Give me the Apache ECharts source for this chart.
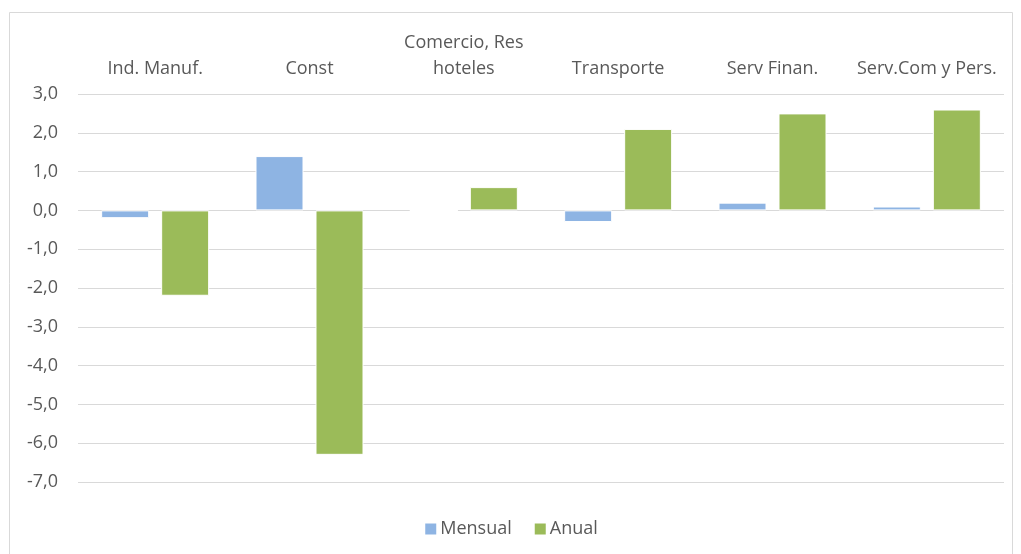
<!DOCTYPE html>
<html>
<head>
<meta charset="utf-8">
<script src="https://cdn.jsdelivr.net/npm/echarts@6/dist/echarts.min.js"></script>
<style>
html,body{margin:0;padding:0;background:#fff;}
#chart{width:1021px;height:554px;}
</style>
</head>
<body>
<div id="chart"></div>
<script>
const categories = ['Ind. Manuf.', 'Const', 'Comercio, Res\nhoteles', 'Transporte', 'Serv Finan.', 'Serv.Com y Pers.'];
const mensual = [-0.2, 1.4, 0.0, -0.3, 0.2, 0.1];
const anual = [-2.2, -6.3, 0.6, 2.1, 2.5, 2.6];
const seriesNames = ['Mensual', 'Anual'];

const FONT = '"Open Sans", sans-serif';
const chart = echarts.init(document.getElementById('chart'), null, {renderer: 'canvas'});
chart.setOption({
  animation: false,
  backgroundColor: '#fff',
  color: ['#8EB4E3', '#9BBB59'],
  graphic: [{
    type: 'rect', silent: true, z: -1,
    shape: {x: 9.5, y: 12.5, width: 1003, height: 600},
    style: {fill: 'none', stroke: '#d9d9d9', lineWidth: 1}
  }],
  legend: {
    bottom: 11, left: 'center',
    itemWidth: 13, itemHeight: 13, itemGap: 21,
    icon: 'rect',
    textStyle: {color: '#595959', fontSize: 18, fontFamily: FONT, padding: [0, 0, 0, -2]},
    data: seriesNames
  },
  grid: {left: 78, right: 17, top: 94, bottom: 72, containLabel: false},
  xAxis: {
    type: 'category', position: 'top', data: categories,
    axisLine: {show: false}, axisTick: {show: false},
    axisLabel: {color: '#595959', fontSize: 18, fontFamily: FONT, margin: 12, lineHeight: 26, interval: 0}
  },
  yAxis: {
    type: 'value', min: -7, max: 3, interval: 1,
    axisLine: {show: false}, axisTick: {show: false},
    splitLine: {lineStyle: {color: '#d9d9d9', width: 1}},
    axisLabel: {color: '#595959', fontSize: 18, fontFamily: FONT, margin: 20,
      formatter: v => v.toFixed(1).replace('.', ',')}
  },
  series: [
    {name: seriesNames[0], type: 'bar', data: mensual, barWidth: 48, barGap: '25%',
     itemStyle: {borderColor: '#fff', borderWidth: 1}},
    {name: seriesNames[1], type: 'bar', data: anual, barWidth: 48, barGap: '25%',
     itemStyle: {borderColor: '#fff', borderWidth: 1}}
  ]
});
</script>
</body>
</html>
